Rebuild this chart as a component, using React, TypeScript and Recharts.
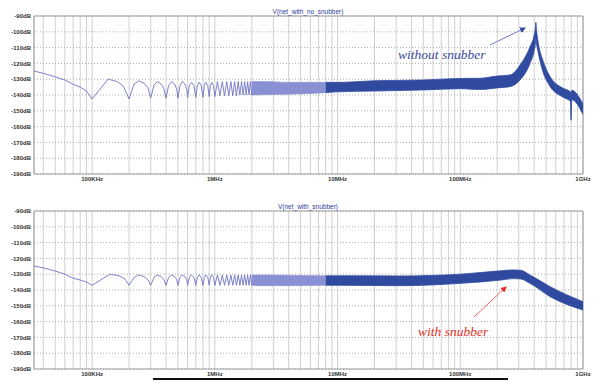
import React from 'react';
import { ComposedChart, Line, Area, XAxis, YAxis, CartesianGrid, ReferenceArea } from 'recharts';

// frequency axis (Hz), log scale
const xMin = 33600;
const xMax = 1e9;
const tickDecades = [1e4, 1e5, 1e6, 1e7, 1e8];
const tickSteps = [1, 2, 3, 4, 5, 6, 7, 8, 9];
const labelFreqs = [1e5, 1e6, 1e7, 1e8, 1e9];
const labelTexts = ['100KHz', '1MHz', '10MHz', '100MHz', '1GHz'];
const yTicks = [-190, -180, -170, -160, -150, -140, -130, -120, -110, -100, -90];

// V(net_with_no_snubber): resolved lobes at low frequency
const noSnubLobeFreq = [33600, 40000, 50000, 60000, 70000, 80000, 90000, 100000,
  135000, 160000, 180000, 200000,
  220000, 240000, 265000, 285000, 300000,
  320000, 340000, 365000, 385000, 400000,
  420000, 445000, 470000, 490000, 500000,
  520000, 545000, 570000, 590000, 600000,
  620000, 645000, 675000, 700000, 720000, 745000, 775000, 800000,
  820000, 845000, 875000, 900000, 920000, 945000, 975000, 1000000,
  1050000, 1100000, 1150000, 1200000, 1250000, 1300000, 1350000, 1400000, 1450000, 1500000,
  1550000, 1600000, 1650000, 1700000, 1750000, 1800000, 1850000, 1900000, 1950000, 2000000];
const noSnubLobeDb = [-124.8, -126.3, -128.5, -130.5, -133.2, -135, -137.5, -142.5,
  -130, -131.5, -134.5, -142.5,
  -133, -131, -132.5, -135.5, -142,
  -133.5, -131.5, -133, -136, -142,
  -134, -131.5, -133, -136.5, -142,
  -134, -131.5, -133, -136.5, -141.5,
  -134, -132, -134, -141.5, -134, -132, -134, -141.5,
  -134, -132, -134, -141, -134, -132, -134, -141,
  -131.5, -140.5, -131.5, -140.5, -131.5, -140.5, -131.5, -140.5, -131.5, -140.5,
  -131.5, -140, -131.5, -140, -131.5, -140, -131.5, -140, -131.5, -140];
// light (partly resolved) envelope
const noSnubLightFreq = [2e6, 2.5e6, 4e6, 8e6];
const noSnubLightLo = [-140, -139.8, -139.5, -138.5];
const noSnubLightHi = [-131.5, -131.5, -132, -132];
// dense envelope
const noSnubBandFreq = [8e6, 1e7, 2e7, 5e7, 1e8, 1.45e8, 2e8, 2.55e8, 3.07e8, 3.7e8, 4.0e8, 4.1e8, 4.13e8,
  4.17e8, 4.3e8, 4.7e8, 5.3e8, 6.9e8, 7.9e8, 8.0e8, 8.1e8, 1e9];
const noSnubBandLo = [-138.5, -138, -137.5, -136.8, -136, -136.5, -135.5, -134.7, -130.5, -120, -112, -107, -104,
  -107, -112.6, -125, -133.7, -141.5, -144, -156, -143, -152.3];
const noSnubBandHi = [-132, -132, -131, -130.5, -129.5, -129.4, -128, -127.3, -121, -109.4, -102, -97, -94,
  -98, -106, -117.8, -127.3, -135.8, -138, -138.5, -137, -145.7];

// V(net_with_snubber)
const snubLobeFreq = [33600, 40000, 50000, 60000, 70000, 80000, 90000, 100000,
  140000, 165000, 185000, 200000,
  220000, 240000, 265000, 285000, 300000,
  320000, 340000, 365000, 385000, 400000,
  420000, 445000, 470000, 490000, 500000,
  520000, 545000, 570000, 590000, 600000,
  620000, 645000, 675000, 700000, 720000, 745000, 775000, 800000,
  820000, 845000, 875000, 900000, 920000, 945000, 975000, 1000000,
  1050000, 1100000, 1150000, 1200000, 1250000, 1300000, 1350000, 1400000, 1450000, 1500000,
  1550000, 1600000, 1650000, 1700000, 1750000, 1800000, 1850000, 1900000, 1950000, 2000000];
const snubLobeDb = [-124.8, -126, -128, -130, -132.5, -133.7, -135, -137,
  -130, -131, -133, -137,
  -132, -130.5, -131.5, -133.5, -137,
  -132, -130.5, -131.5, -133.5, -137,
  -132, -130.5, -131.5, -133.5, -137,
  -132, -130.5, -131.5, -133.5, -137,
  -132, -130.5, -132, -137, -132, -130.5, -132, -137,
  -132, -130.5, -132, -137, -132, -130.5, -132, -137,
  -130.5, -137, -130.5, -137, -130.5, -137, -130.5, -137, -130.5, -137,
  -130.5, -137, -130.5, -137, -130.5, -137, -130.5, -137, -130.5, -137];
const snubLightFreq = [2e6, 2.5e6, 4e6, 8e6];
const snubLightLo = [-137, -137.3, -137.3, -137];
const snubLightHi = [-130.5, -130.5, -130.7, -131];
const snubBandFreq = [8e6, 1e7, 3.2e7, 1e8, 2.15e8, 2.7e8, 3.1e8, 3.7e8, 5.4e8, 1e9];
const snubBandLo = [-137, -137, -137.3, -135.8, -133.7, -132.8, -133, -135.8, -144.2, -152.7];
const snubBandHi = [-131, -131, -131.1, -130, -127.8, -127.3, -127.5, -130.5, -137.9, -147.4];

const xTicks = [
  ...tickDecades.flatMap((d) => tickSteps.map((s) => Math.round(s * d))).filter((t) => t >= 40000),
  1e9,
];

type Row = { f: number; lobe?: number; light?: [number, number]; band?: [number, number] };

function buildRows(
  lobeF: number[], lobeDb: number[],
  lightF: number[], lightLo: number[], lightHi: number[],
  bandF: number[], bandLo: number[], bandHi: number[],
): Row[] {
  const map = new Map<number, Row>();
  const get = (f: number) => {
    if (!map.has(f)) map.set(f, { f });
    return map.get(f)!;
  };
  lobeF.forEach((f, i) => { get(f).lobe = lobeDb[i]; });
  lightF.forEach((f, i) => { get(f).light = [lightLo[i], lightHi[i]]; });
  bandF.forEach((f, i) => { get(f).band = [bandLo[i], bandHi[i]]; });
  return [...map.values()].sort((a, b) => a.f - b.f);
}

const noSnubRows = buildRows(noSnubLobeFreq, noSnubLobeDb, noSnubLightFreq, noSnubLightLo, noSnubLightHi,
  noSnubBandFreq, noSnubBandLo, noSnubBandHi);
const snubRows = buildRows(snubLobeFreq, snubLobeDb, snubLightFreq, snubLightLo, snubLightHi,
  snubBandFreq, snubBandLo, snubBandHi);

const tickStyle = { fontSize: 6, fontWeight: 700, fill: '#333', fontFamily: 'Liberation Sans, Arial, sans-serif' };

const formatFreq = (v: number) => {
  const i = labelFreqs.indexOf(v);
  return i >= 0 ? labelTexts[i] : '';
};

const Panel = ({ rows, top, title }: { rows: Row[]; top: number; title: string }) => (
  <div style={{ position: 'absolute', left: 0, top, width: 600, height: 195 }}>
    <ComposedChart width={600} height={195} data={rows} margin={{ top: 16, right: 17, bottom: 6, left: 0 }}>
      <CartesianGrid horizontal={false} stroke="#d0d0d0" />
      <CartesianGrid vertical={false} stroke="#acacac" strokeDasharray="1 2" />
      <XAxis
        dataKey="f"
        type="number"
        scale="log"
        domain={[xMin, xMax]}
        allowDataOverflow
        ticks={xTicks}
        interval={0}
        tickFormatter={formatFreq}
        height={15}
        tickLine={false}
        axisLine={false}
        tickSize={2}
        tickMargin={1}
        tick={tickStyle}
      />
      <YAxis
        type="number"
        domain={[-190, -90]}
        ticks={yTicks}
        interval={0}
        tickFormatter={(v: number) => `${v}dB`}
        width={34}
        tickLine={false}
        axisLine={false}
        tickSize={2}
        tickMargin={1}
        tick={tickStyle}
      />
      <ReferenceArea x1={xMin} x2={xMax} y1={-190} y2={-90} fill="none" stroke="#9c9c9c" ifOverflow="visible" />
      <Area dataKey="light" type="monotone" stroke="#8c90d2" strokeWidth={0.6} fill="#8a90d4" fillOpacity={1}
        isAnimationActive={false} connectNulls={false} dot={false} activeDot={false} />
      <Area dataKey="band" type="monotone" stroke="#2f4a9f" strokeWidth={0.8} fill="#2f4a9f" fillOpacity={1}
        isAnimationActive={false} connectNulls={false} dot={false} activeDot={false} />
      <Line dataKey="lobe" type="linear" stroke="#6f74c4" strokeWidth={0.9} dot={false} activeDot={false}
        isAnimationActive={false} connectNulls={false} />
    </ComposedChart>
    <div style={{
      position: 'absolute', left: 228, width: 160, top: 7, textAlign: 'center',
      fontSize: 6.5, color: '#2b3d9c', fontFamily: 'Liberation Sans, Arial, sans-serif', lineHeight: '10px',
    }}>{title}</div>
  </div>
);

export default function App() {
  return (
    <div style={{ position: 'absolute', left: 0, top: 0, width: 600, height: 390, background: '#fff', overflow: 'hidden' }}>
      <Panel rows={noSnubRows} top={0} title="V(net_with_no_snubber)" />
      <Panel rows={snubRows} top={195} title="V(net_with_snubber)" />
      <svg width={600} height={390} style={{ position: 'absolute', left: 0, top: 0, pointerEvents: 'none' }}>
        <defs>
          <marker id="headBlue" markerWidth="6" markerHeight="6" refX="5" refY="3" orient="auto" markerUnits="userSpaceOnUse">
            <path d="M0,0 L6,3 L0,6 z" fill="#3a4aa0" />
          </marker>
          <marker id="headRed" markerWidth="6" markerHeight="6" refX="5" refY="3" orient="auto" markerUnits="userSpaceOnUse">
            <path d="M0,0 L6,3 L0,6 z" fill="#e8302a" />
          </marker>
        </defs>
        <line x1={490} y1={45} x2={525} y2={28} stroke="#7078c4" strokeWidth={1} markerEnd="url(#headBlue)" />
        <text x={398} y={59} fontSize={13.5} fontStyle="italic" fill="#3a4aa0" fontFamily="Liberation Serif, serif">without snubber</text>
        <line x1={474} y1={317} x2={506} y2={287} stroke="#ee6a60" strokeWidth={1} markerEnd="url(#headRed)" />
        <text x={418} y={336} fontSize={13.5} fontStyle="italic" fill="#e8302a" fontFamily="Liberation Serif, serif">with snubber</text>
      </svg>
      <div style={{ position: 'absolute', left: 153, top: 378, width: 355, height: 2, background: '#111' }} />
    </div>
  );
}
